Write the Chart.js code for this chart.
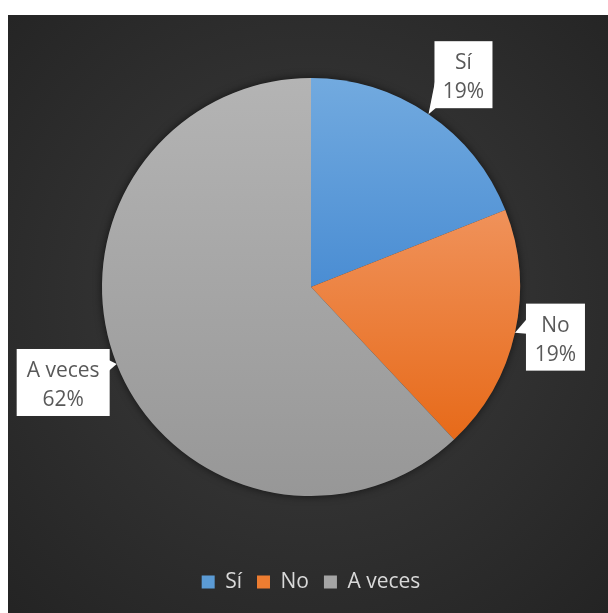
<!DOCTYPE html>
<html>
<head>
<meta charset="utf-8">
<script src="https://cdn.jsdelivr.net/npm/chart.js@4.4.0/dist/chart.umd.min.js"></script>
<style>
  html, body { margin: 0; padding: 0; background: #fff; }
  canvas { display: block; }
</style>
</head>
<body>
<canvas id="pieChart" width="608" height="613"></canvas>
<script>
        const categories = ['Sí', 'No', 'A veces'];
        const percentages = [19, 19, 62];
        const legendColors = ['#5b9bd5', '#ed7d31', '#a5a5a5'];
        // light (top) and dark (bottom) shade of each slice
        const lightShades = ['#72aadf', '#f0935c', '#b4b4b4'];
        const darkShades = ['#4a8dd3', '#e76b1b', '#979797'];
        const shadeStops = [[0, 0.5], [0.3, 0.85], [0, 1]];

        // callout box placement, relative to the point on the slice edge
        const callouts = [
            { dx: 6, dy: -73, w: 58, h: 67, side: 'left', t0: 38, t1: 67 },
            { dx: 11, dy: -29, w: 59, h: 67, side: 'left', t0: 15, t1: 30 },
            { dx: -100, dy: -15, w: 93, h: 67, side: 'right', t0: 11, t1: 22 }
        ];

        const backgroundPlugin = {
            id: 'darkPanel',
            beforeDraw(chart) {
                const ctx = chart.ctx;
                const g = ctx.createRadialGradient(310, 300, 0, 310, 300, 430);
                g.addColorStop(0, '#3d3d3d');
                g.addColorStop(1, '#242424');
                ctx.save();
                ctx.fillStyle = g;
                ctx.fillRect(8, 15, chart.width - 8, chart.height - 15);
                ctx.restore();
            },
            beforeDatasetsDraw(chart) {
                const arc = chart.getDatasetMeta(0).data[0];
                if (!arc) return;
                const { x, y, outerRadius } = arc.getProps(['x', 'y', 'outerRadius'], true);
                const ctx = chart.ctx;
                ctx.save();
                ctx.shadowColor = 'rgba(0,0,0,0.6)';
                ctx.shadowBlur = 9;
                ctx.fillStyle = '#303030';
                ctx.beginPath();
                ctx.arc(x, y, outerRadius, 0, Math.PI * 2);
                ctx.fill();
                ctx.restore();
            }
        };

        const calloutPlugin = {
            id: 'callouts',
            afterDatasetsDraw(chart) {
                const ctx = chart.ctx;
                chart.getDatasetMeta(0).data.forEach((arc, i) => {
                    const p = arc.getProps(['x', 'y', 'startAngle', 'endAngle', 'outerRadius'], true);
                    const mid = (p.startAngle + p.endAngle) / 2;
                    const tipX = p.x + Math.cos(mid) * p.outerRadius;
                    const tipY = p.y + Math.sin(mid) * p.outerRadius;
                    const c = callouts[i];
                    const bx = tipX + c.dx;
                    const by = tipY + c.dy;
                    const edgeX = c.side === 'left' ? bx + 1 : bx + c.w - 1;

                    ctx.save();
                    ctx.fillStyle = '#ffffff';
                    ctx.fillRect(bx, by, c.w, c.h);
                    ctx.beginPath();
                    ctx.moveTo(edgeX, by + c.t0);
                    ctx.lineTo(tipX, tipY);
                    ctx.lineTo(edgeX, by + c.t1);
                    ctx.closePath();
                    ctx.fill();

                    ctx.fillStyle = '#595959';
                    ctx.font = '21px "Open Sans"';
                    ctx.textAlign = 'center';
                    ctx.textBaseline = 'alphabetic';
                    ctx.fillText(categories[i], bx + c.w / 2, by + 28);
                    ctx.fillText(percentages[i] + '%', bx + c.w / 2, by + 57);
                    ctx.restore();
                });
            }
        };

        function sliceFill(context) {
            const i = context.dataIndex;
            const area = context.chart.chartArea;
            if (!area) return legendColors[i];
            const g = context.chart.ctx.createLinearGradient(0, area.top, 0, area.bottom);
            g.addColorStop(shadeStops[i][0], lightShades[i]);
            g.addColorStop(shadeStops[i][1], darkShades[i]);
            return g;
        }

        const pieChart = new Chart(document.getElementById('pieChart').getContext('2d'), {
            type: 'pie',
            data: {
                labels: categories,
                datasets: [{
                    data: percentages,
                    backgroundColor: sliceFill,
                    borderWidth: 0
                }]
            },
            options: {
                responsive: false,
                animation: false,
                events: [],
                layout: {
                    padding: { left: 102, right: 88, top: 78, bottom: 10.5 }
                },
                plugins: {
                    tooltip: { enabled: false },
                    legend: {
                        position: 'bottom',
                        title: {
                            display: true,
                            text: ' ',
                            font: { size: 12 },
                            padding: { top: 46, bottom: 0 }
                        },
                        labels: {
                            color: '#d9d9d9',
                            font: { family: '"Open Sans"', size: 21 },
                            boxWidth: 13,
                            boxHeight: 13,
                            padding: 15,
                            generateLabels(chart) {
                                const items = Chart.overrides.pie.plugins.legend.labels.generateLabels(chart);
                                items.forEach((item, i) => {
                                    item.fillStyle = legendColors[i];
                                    item.strokeStyle = legendColors[i];
                                    item.lineWidth = 0;
                                });
                                return items;
                            }
                        }
                    }
                }
            },
            plugins: [backgroundPlugin, calloutPlugin]
        });
</script>
</body>
</html>
